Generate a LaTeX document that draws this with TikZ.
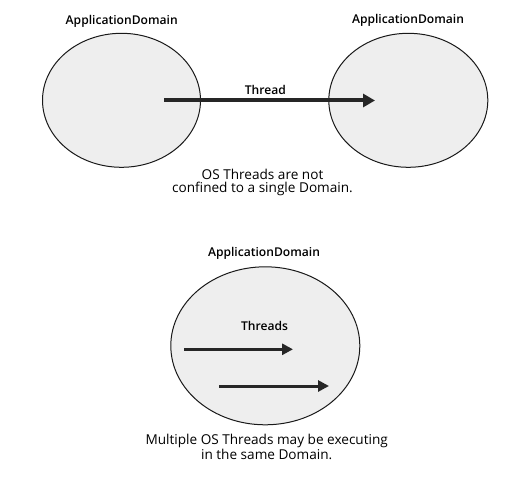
\documentclass[tikz,border=0pt]{standalone}
\usepackage{fontspec}
\setmainfont{Open Sans}
\newfontfamily\semib{Open Sans Semibold}
\usetikzlibrary{shapes.geometric,arrows.meta}
\tikzset{
appdomain/.style={ellipse,draw=black!90,line width=1pt,fill=gray!13},
domtitle/.style={inner sep=0pt,anchor=base,font=\semib\fontsize{12.1}{15}\selectfont},
domcaption/.style={inner sep=0pt,anchor=north,align=center,font=\fontsize{13.6}{13.5}\selectfont},
thread/.style={line width=4pt,draw=black!85,-{Triangle[length=12pt,width=13pt]}},
thinthread/.style={line width=3pt,draw=black!85,-{Triangle[length=11pt,width=11pt]}}
}
\begin{document}
\begin{tikzpicture}[x=1pt,y=-1pt]
\useasboundingbox (0,0) rectangle (529,478);
% top: one thread crossing two domains
\node[appdomain,minimum width=158pt,minimum height=134pt] (left) at (121.5,100.3) {};
\node[appdomain,minimum width=159pt,minimum height=134pt] (right) at (408.3,100.3) {};
\node[domtitle] (lefttitle) at (121.7,25) {ApplicationDomain};
\node[domtitle] (righttitle) at (408,23.3) {ApplicationDomain};
\coordinate (t1s) at (164,100.5);
\coordinate (t1e) at (375,100.5);
\draw[thread] (t1s) -- (t1e);
\node[domtitle] (threadlabel) at (265.3,94.3) {Thread};
\node[domcaption] (topcaption) at (262.5,168.5) {OS Threads are not\\confined to a single Domain.};
% bottom: several threads in one domain
\node[appdomain,minimum width=189pt,minimum height=158pt] (single) at (265.3,345.8) {};
\node[domtitle] (singletitle) at (264,256.7) {ApplicationDomain};
\node[domtitle] (threadslabel) at (264.5,330) {Threads};
\coordinate (t2s) at (184,349.3);
\coordinate (t2e) at (293,349.3);
\coordinate (t3s) at (219,386);
\coordinate (t3e) at (329,386);
\draw[thinthread] (t2s) -- (t2e);
\draw[thinthread] (t3s) -- (t3e);
\node[domcaption] (bottomcaption) at (266.7,434.4) {Multiple OS Threads may be executing\\in the same Domain.};
\end{tikzpicture}
\end{document}
